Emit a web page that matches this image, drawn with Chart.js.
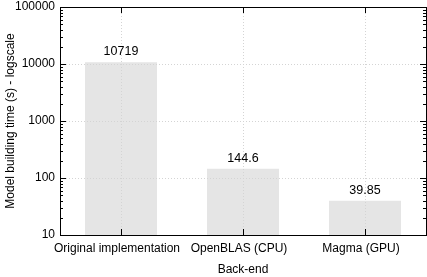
<!DOCTYPE html>
<html>
<head>
<meta charset="utf-8">
<script src="https://cdn.jsdelivr.net/npm/chart.js@4"></script>
<style>
html,body{margin:0;padding:0;background:#fff;}
#wrap{width:427px;height:277px;}
</style>
</head>
<body>
<div id="wrap"><canvas id="c" width="427" height="277"></canvas></div>
<script>
var categories = ['Original implementation', 'OpenBLAS (CPU)', 'Magma (GPU)'];
var times = [10719, 144.6, 39.85];
var timeLabels = ['10719', '144.6', '39.85'];
var yTicks = [10, 100, 1000, 10000, 100000];

var FONT = "'Liberation Sans', Arial, sans-serif";
Chart.defaults.font.family = FONT;
Chart.defaults.font.size = 12;
Chart.defaults.color = '#000';

function dotted(ctx, x1, y1, x2, y2) {
  if (x1 == x2) {
    for (var y = y1; y <= y2; y += 3) ctx.fillRect(x1, y, 1, 1);
  } else {
    for (var x = x1; x <= x2; x += 3) ctx.fillRect(x, y1, 1, 1);
  }
}

function drawGrid(chart, colour) {
  var ctx = chart.ctx, a = chart.chartArea;
  var y = chart.scales.y, x = chart.scales.x;
  ctx.fillStyle = colour;
  yTicks.forEach(function(v) {
    var py = Math.round(y.getPixelForValue(v));
    dotted(ctx, Math.round(a.left), py, Math.round(a.right), py);
  });
  for (var i = 0; i < categories.length; i++) {
    var px = Math.round(x.getPixelForValue(i));
    dotted(ctx, px, Math.round(a.top), px, Math.round(a.bottom));
  }
}

// dotted grid drawn behind the bars
var grid = {
  id: 'grid',
  beforeDatasetsDraw: function(chart) {
    chart.ctx.save();
    drawGrid(chart, '#999');
    chart.ctx.restore();
  }
};

// frame, minor ticks and bar value labels
var decor = {
  id: 'decor',
  afterDatasetsDraw: function(chart) {
    var ctx = chart.ctx, a = chart.chartArea;
    var y = chart.scales.y, x = chart.scales.x;
    ctx.save();
    drawGrid(chart, '#d4d4d4');
    ctx.strokeStyle = '#000';
    ctx.lineWidth = 1;
    // y ticks on both sides
    for (var d = 10; d < 100000; d *= 10) {
      for (var k = 1; k <= 10; k++) {
        var v = d * k;
        var py = Math.round(y.getPixelForValue(v)) + 0.5;
        var len = (k == 1 || k == 10) ? 6 : 3;
        ctx.beginPath();
        ctx.moveTo(a.left, py); ctx.lineTo(a.left + len, py);
        ctx.moveTo(a.right, py); ctx.lineTo(a.right - len, py);
        ctx.stroke();
      }
    }
    // x ticks top and bottom
    for (var j = 0; j < categories.length; j++) {
      var px = Math.round(x.getPixelForValue(j)) + 0.5;
      ctx.beginPath();
      ctx.moveTo(px, a.bottom); ctx.lineTo(px, a.bottom - 6);
      ctx.moveTo(px, a.top); ctx.lineTo(px, a.top + 6);
      ctx.stroke();
    }
    // frame
    ctx.strokeRect(Math.round(a.left) + 0.5, Math.round(a.top) + 0.5,
      Math.round(a.right - a.left), Math.round(a.bottom - a.top));
    // value labels
    ctx.fillStyle = '#000';
    ctx.font = '12.5px ' + FONT;
    ctx.textAlign = 'center';
    ctx.textBaseline = 'bottom';
    var meta = chart.getDatasetMeta(0);
    meta.data.forEach(function(bar, i) {
      ctx.fillText(timeLabels[i], bar.x, bar.y - 4);
    });
    ctx.restore();
  }
};

new Chart(document.getElementById('c'), {
  type: 'bar',
  data: {
    labels: categories,
    datasets: [{
      data: times,
      backgroundColor: '#e5e5e5',
      borderWidth: 0,
      categoryPercentage: 1,
      barPercentage: 0.59
    }]
  },
  options: {
    responsive: false,
    animation: false,
    layout: { padding: { top: 7, right: 1, left: 0, bottom: 0 } },
    plugins: { legend: { display: false }, tooltip: { enabled: false } },
    scales: {
      x: {
        grid: { display: false, drawTicks: false },
        border: { display: false },
        ticks: { padding: 6, labelOffset: -4, color: '#000', maxRotation: 0, autoSkip: false },
        title: { display: true, text: 'Back-end', color: '#000', padding: { top: 5, bottom: 0 } },
        afterFit: function(s) { s.height = 42; }
      },
      y: {
        type: 'logarithmic',
        min: 10, max: 100000,
        afterBuildTicks: function(s) {
          s.ticks = yTicks.map(function(v) { return { value: v, major: true }; });
        },
        grid: { display: false, drawTicks: false },
        border: { display: false },
        ticks: {
          padding: 5, color: '#000',
          callback: function(v) { return String(v); }
        },
        title: { display: true, text: 'Model building time (s) - logscale', color: '#000', padding: { top: 3, bottom: 0 } },
        afterFit: function(s) { s.width = 60; s.paddingTop = 0; s.paddingBottom = 0; }
      }
    }
  },
  plugins: [grid, decor]
});
</script>
</body>
</html>
